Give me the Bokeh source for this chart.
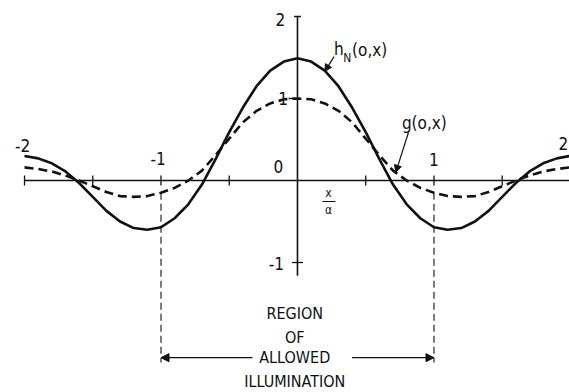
from bokeh.plotting import figure
from bokeh.models import Range1d, Arrow, NormalHead
from bokeh.core.properties import value
from bokeh.embed import file_html
from bokeh.resources import INLINE

# x / alpha sample points, 0 .. 2 (curves are even in x)
x_half = [0.0, 0.1, 0.2, 0.3, 0.4, 0.5, 0.6, 0.7, 0.8, 0.9, 1.0,
          1.1, 1.2, 1.3, 1.4, 1.5, 1.6, 1.7, 1.8, 1.9, 2.0]
# h_N(o, x): solid curve
h_half = [1.49, 1.45, 1.34, 1.15, 0.89, 0.59, 0.26, -0.05, -0.29, -0.46, -0.57,
          -0.60, -0.58, -0.50, -0.37, -0.20, -0.03, 0.11, 0.21, 0.27, 0.30]
# g(o, x): dashed curve
g_half = [1.00, 0.99, 0.94, 0.85, 0.71, 0.51, 0.31, 0.12, 0.00, -0.09, -0.15,
          -0.19, -0.20, -0.19, -0.14, -0.07, 0.00, 0.06, 0.11, 0.14, 0.16]

x_ticks = [-2, -1.5, -1, -0.5, 0.5, 1, 1.5, 2]
x_label_vals = [-2, -1, 1, 2]
x_labels = ["-2", "-1", "1", "2"]
y_tick_vals = [2, 1, -1]
y_labels = ["2", "1", "-1"]
region_edges = [-1, 1]
region_lines = ["REGION", "OF", "ALLOWED", "ILLUMINATION"]

# mirror the half-curves onto the full range
xs = [-v for v in reversed(x_half[1:])] + x_half
hs = list(reversed(h_half[1:])) + h_half
gs = list(reversed(g_half[1:])) + g_half

FONT = value("DejaVu Sans Condensed")
INK = "#111111"

p = figure(width=569, height=392,
           x_range=Range1d(-2.176, 1.993), y_range=Range1d(-2.585, 2.195),
           x_axis_type=None, y_axis_type=None,
           output_backend="svg", toolbar_location=None, min_border=0)
p.xgrid.visible = False
p.ygrid.visible = False
p.outline_line_color = None
p.background_fill_color = "white"
p.border_fill_color = "white"

# hand-drawn style axes through the origin
p.segment(x0=[x_ticks[0]], y0=[0], x1=[x_ticks[-1]], y1=[0], line_color=INK, line_width=1.6)
p.segment(x0=[0], y0=[-1.16], x1=[0], y1=[y_tick_vals[0]], line_color=INK, line_width=1.6)
p.segment(x0=x_ticks, y0=[-0.06] * len(x_ticks), x1=x_ticks, y1=[0.06] * len(x_ticks),
          line_color=INK, line_width=1.3)
# y ticks: cap at top, left stub at 1, cross at -1
p.segment(x0=[-0.025, -0.065, -0.04], y0=y_tick_vals, x1=[0.025, 0.0, 0.04], y1=y_tick_vals,
          line_color=INK, line_width=1.3)

# curves
p.line(xs, gs, line_color=INK, line_width=2.6, line_dash="9 5")
p.line(xs, hs, line_color=INK, line_width=2.6)

# region of allowed illumination
g_at_edges = [gs[xs.index(e)] for e in region_edges]
p.segment(x0=region_edges, y0=g_at_edges, x1=region_edges, y1=[-2.22, -2.22],
          line_color=INK, line_width=1.1, line_dash="7 4")
head = dict(size=8, fill_color=INK, line_color=INK)
p.add_layout(Arrow(end=NormalHead(**head), x_start=-0.33, y_start=-2.16,
                   x_end=region_edges[0], y_end=-2.16, line_color=INK, line_width=1.3))
p.add_layout(Arrow(end=NormalHead(**head), x_start=0.40, y_start=-2.16,
                   x_end=region_edges[1], y_end=-2.16, line_color=INK, line_width=1.3))
p.text(x=[-0.02] * 4, y=[-1.62, -1.92, -2.16, -2.45], text=region_lines,
       text_font=FONT, text_font_size="16px", text_align="center",
       text_baseline="middle", text_color=INK)

# tick labels (the last one is pulled in from the right edge)
p.text(x=x_label_vals, y=[0.43, 0.27, 0.26, 0.45], x_offset=[-2, -3, 0, -7], text=x_labels,
       text_font=FONT, text_font_size="17px", text_align="center",
       text_baseline="middle", text_color=INK)
p.text(x=[-0.125, -0.105, -0.155], y=[1.96, 1.0, -1.01], text=y_labels,
       text_font=FONT, text_font_size="17px", text_align="center",
       text_baseline="middle", text_color=INK)
p.text(x=[-0.14], y=[0.17], text=["0"], text_font=FONT, text_font_size="17px",
       text_align="center", text_baseline="middle", text_color=INK)

# axis variable x / alpha
p.text(x=[0.227], y=[-0.15], text=["x"], text_font=FONT, text_font_size="12px",
       text_align="center", text_baseline="middle", text_color=INK)
p.segment(x0=[0.183], y0=[-0.256], x1=[0.278], y1=[-0.256], line_color=INK, line_width=1.2)
p.text(x=[0.227], y=[-0.36], text=["\u03b1"], text_font=FONT, text_font_size="12px",
       text_align="center", text_baseline="middle", text_color=INK)

# curve labels with pointers
p.text(x=[0.268], y=[1.60], text=["h"], text_font=FONT, text_font_size="17px",
       text_align="left", text_baseline="middle", text_color=INK)
p.text(x=[0.335], y=[1.49], text=["N"], text_font=FONT, text_font_size="12px",
       text_align="left", text_baseline="middle", text_color=INK)
p.text(x=[0.40], y=[1.59], text=["(o,x)"], text_font=FONT, text_font_size="17px",
       text_align="left", text_baseline="middle", text_color=INK)
p.text(x=[0.765], y=[0.70], text=["g(o,x)"], text_font=FONT, text_font_size="17px",
       text_align="left", text_baseline="middle", text_color=INK)
ptr = dict(size=7, fill_color=INK, line_color=INK)
p.add_layout(Arrow(end=NormalHead(**ptr), x_start=0.268, y_start=1.51,
                   x_end=0.20, y_end=1.33, line_color=INK, line_width=1.2))
p.add_layout(Arrow(end=NormalHead(**ptr), x_start=0.813, y_start=0.585,
                   x_end=0.72, y_end=0.10, line_color=INK, line_width=1.2))

open("out.html", "w").write(file_html(p, INLINE))
